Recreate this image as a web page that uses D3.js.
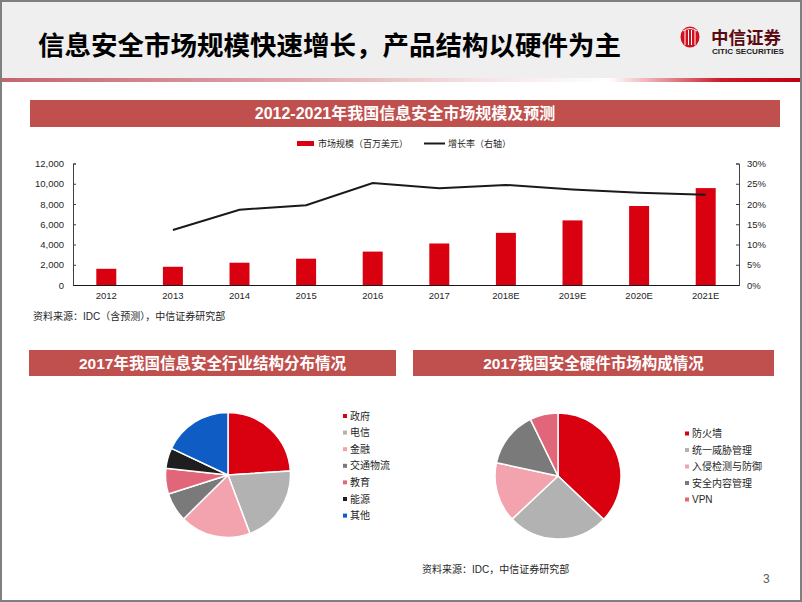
<!DOCTYPE html>
<html>
<head>
<meta charset="utf-8">
<script src="https://cdn.jsdelivr.net/npm/d3@7/dist/d3.min.js"></script>
<style>
  html, body { margin: 0; padding: 0; background: #fff; }
  svg { display: block; }
  text { font-family: "Liberation Sans", Arial, "Noto Sans CJK SC", sans-serif; }
  .cjk { font-family: "Liberation Sans", "Noto Sans CJK SC", sans-serif; }
</style>
</head>
<body>
<svg id="chart" width="802" height="602"></svg>
<script>
// ---------- data ----------
const years = ["2012", "2013", "2014", "2015", "2016", "2017", "2018E", "2019E", "2020E", "2021E"];
const marketSize = [1600, 1800, 2200, 2600, 3300, 4100, 5150, 6380, 7800, 9570];      // 百万美元
const growthRate = [null, 13.6, 18.6, 19.7, 25.2, 23.9, 24.7, 23.6, 22.8, 22.3];       // %
const leftTicks = [0, 2000, 4000, 6000, 8000, 10000, 12000];
const rightTicks = [0, 5, 10, 15, 20, 25, 30];

const industryLabels = ["政府", "电信", "金融", "交通物流", "教育", "能源", "其他"];
const industryShares = [24.0, 20.3, 18.3, 7.5, 6.6, 5.3, 18.0];
const industryColors = ["#d9000f", "#b2b2b2", "#f2a3ad", "#7a7a7a", "#e2667a", "#1e1e1e", "#0e5cc4"];

const hardwareLabels = ["防火墙", "统一威胁管理", "入侵检测与防御", "安全内容管理", "VPN"];
const hardwareShares = [37.1, 25.9, 15.4, 14.4, 7.2];
const hardwareColors = ["#d9000f", "#b2b2b2", "#f2a3ad", "#7a7a7a", "#e2667a"];

// ---------- page ----------
const svg = d3.select("#chart");
const defs = svg.append("defs");

// header background
svg.append("rect").attr("x", 0).attr("y", 0).attr("width", 802).attr("height", 79).attr("fill", "#efefef");

// gradient line under header
const lg = defs.append("linearGradient").attr("id", "hdrLine").attr("x1", "0%").attr("x2", "100%");
[[0, "#c5646e"], [0.37, "#e0a7ac"], [0.6, "#f6e3e4"], [0.76, "#ffffff"], [0.83, "#e58f97"], [0.9, "#cc1a28"], [1, "#bf0010"]]
  .forEach(([o, c]) => lg.append("stop").attr("offset", o).attr("stop-color", c));
svg.append("rect").attr("x", 0).attr("y", 78).attr("width", 802).attr("height", 4).attr("fill", "url(#hdrLine)");

// slide title
svg.append("text").attr("class", "cjk").attr("x", 38).attr("y", 55)
  .attr("font-size", 26.5).attr("font-weight", "bold").attr("fill", "#000")
  .text("信息安全市场规模快速增长，产品结构以硬件为主");

// logo
const logo = svg.append("g");
logo.append("ellipse").attr("cx", 690).attr("cy", 37).attr("rx", 9.5).attr("ry", 10.5).attr("fill", "#d0101e");
[-5, -1.5, 1.5, 5].forEach(dx => {
  logo.append("line").attr("x1", 690 + dx).attr("x2", 690 + dx).attr("y1", 30).attr("y2", 45)
    .attr("stroke", "#fff").attr("stroke-width", 1);
});
logo.append("path").attr("d", "M683,31 Q690,26 697,31").attr("fill", "none").attr("stroke", "#fff").attr("stroke-width", 1);
logo.append("text").attr("class", "cjk").attr("x", 711).attr("y", 44).attr("font-size", 17.5)
  .attr("font-weight", "bold").attr("fill", "#5a0a10").text("中信证券");
logo.append("text").attr("x", 712).attr("y", 54).attr("font-size", 7.6).attr("font-weight", "bold")
  .attr("fill", "#222").attr("textLength", 72).attr("lengthAdjust", "spacingAndGlyphs").text("CITIC SECURITIES");

// page frame
svg.append("rect").attr("x", 1).attr("y", 1).attr("width", 800).attr("height", 600)
  .attr("fill", "none").attr("stroke", "#7f7f7f").attr("stroke-width", 2);

// section header helper
function sectionHeader(x, y, w, h, label, fs) {
  svg.append("rect").attr("x", x).attr("y", y).attr("width", w).attr("height", h).attr("fill", "#c0504d");
  svg.append("text").attr("class", "cjk").attr("x", x + w / 2).attr("y", y + h / 2 + fs * 0.36)
    .attr("text-anchor", "middle").attr("font-size", fs).attr("font-weight", "bold").attr("fill", "#fff").text(label);
}
sectionHeader(30, 100, 750, 27, "2012-2021年我国信息安全市场规模及预测", 16);
sectionHeader(29, 350, 367, 26, "2017年我国信息安全行业结构分布情况", 15.5);
sectionHeader(413, 350, 361, 26, "2017我国安全硬件市场构成情况", 15.5);

// ---------- bar + line chart ----------
const x = d3.scaleBand().domain(years).range([73, 739]).paddingInner(0.7).paddingOuter(0.35);
const yL = d3.scaleLinear().domain([0, 12000]).range([285, 163.5]);
const yR = d3.scaleLinear().domain([0, 30]).range([285, 163.5]);

const bars = svg.append("g");
bars.selectAll("rect").data(years).join("rect")
  .attr("x", d => x(d)).attr("width", x.bandwidth())
  .attr("y", (d, i) => yL(marketSize[i])).attr("height", (d, i) => yL(0) - yL(marketSize[i]))
  .attr("fill", "#d9000f");

const line = d3.line()
  .defined(d => d.v != null)
  .x(d => x(d.k) + x.bandwidth() / 2)
  .y(d => yR(d.v));
svg.append("path").datum(years.map((k, i) => ({ k, v: growthRate[i] })))
  .attr("d", line).attr("fill", "none").attr("stroke", "#1a1a1a").attr("stroke-width", 2);

const fmt = d3.format(",");
const axL = svg.append("g").attr("transform", "translate(73,0)")
  .call(d3.axisLeft(yL).tickValues(leftTicks).tickFormat(fmt).tickSize(-3).tickPadding(9));
const axR = svg.append("g").attr("transform", "translate(739,0)")
  .call(d3.axisRight(yR).tickValues(rightTicks).tickFormat(d => d + "%").tickSize(-3).tickPadding(8));
const axX = svg.append("g").attr("transform", "translate(0,285)")
  .call(d3.axisBottom(x).tickSize(0).tickPadding(7));
[axL, axR, axX].forEach(a => {
  a.select(".domain").attr("stroke", "#404040");
  a.selectAll(".tick line").attr("stroke", "#404040");
  a.selectAll("text").attr("font-size", 9.5).attr("fill", "#262626")
    .attr("font-family", "'Liberation Sans', Arial, sans-serif");
});
axX.select(".domain").attr("stroke", "#1a1a1a");

// legend
svg.append("rect").attr("x", 297).attr("y", 141).attr("width", 17).attr("height", 5).attr("fill", "#d9000f");
svg.append("text").attr("class", "cjk").attr("x", 318).attr("y", 146.5).attr("font-size", 9).attr("fill", "#262626")
  .text("市场规模（百万美元）");
svg.append("line").attr("x1", 424).attr("x2", 445).attr("y1", 143.5).attr("y2", 143.5)
  .attr("stroke", "#1a1a1a").attr("stroke-width", 2);
svg.append("text").attr("class", "cjk").attr("x", 448).attr("y", 146.5).attr("font-size", 9).attr("fill", "#262626")
  .text("增长率（右轴）");

// sources
svg.append("text").attr("class", "cjk").attr("x", 33).attr("y", 320).attr("font-size", 10).attr("fill", "#262626")
  .text("资料来源：IDC（含预测），中信证券研究部");
svg.append("text").attr("class", "cjk").attr("x", 422).attr("y", 573).attr("font-size", 10).attr("fill", "#262626")
  .text("资料来源：IDC，中信证券研究部");
svg.append("text").attr("x", 763).attr("y", 583).attr("font-size", 12).attr("fill", "#595959").text("3");

// ---------- pies ----------
function drawPie(cx, cy, r, labels, values, colors, lx, ly0, dy) {
  const pie = d3.pie().sort(null).value(d => d)(values);
  const arc = d3.arc().innerRadius(0).outerRadius(r);
  const g = svg.append("g").attr("transform", `translate(${cx},${cy})`);
  g.selectAll("path").data(pie).join("path")
    .attr("d", arc).attr("fill", (d, i) => colors[i])
    .attr("stroke", "#fff").attr("stroke-width", 1.5).attr("stroke-linejoin", "round");
  const lgnd = svg.append("g");
  labels.forEach((lab, i) => {
    const yy = ly0 + i * dy;
    lgnd.append("rect").attr("x", lx).attr("y", yy - 2).attr("width", 4).attr("height", 4).attr("fill", colors[i]);
    lgnd.append("text").attr("class", "cjk").attr("x", lx + 7).attr("y", yy + 3.5)
      .attr("font-size", 10).attr("fill", "#262626").text(lab);
  });
}
drawPie(228, 475, 62.5, industryLabels, industryShares, industryColors, 343, 416, 16.6);
drawPie(558, 476, 63, hardwareLabels, hardwareShares, hardwareColors, 685, 433.5, 16.5);
</script>
</body>
</html>
